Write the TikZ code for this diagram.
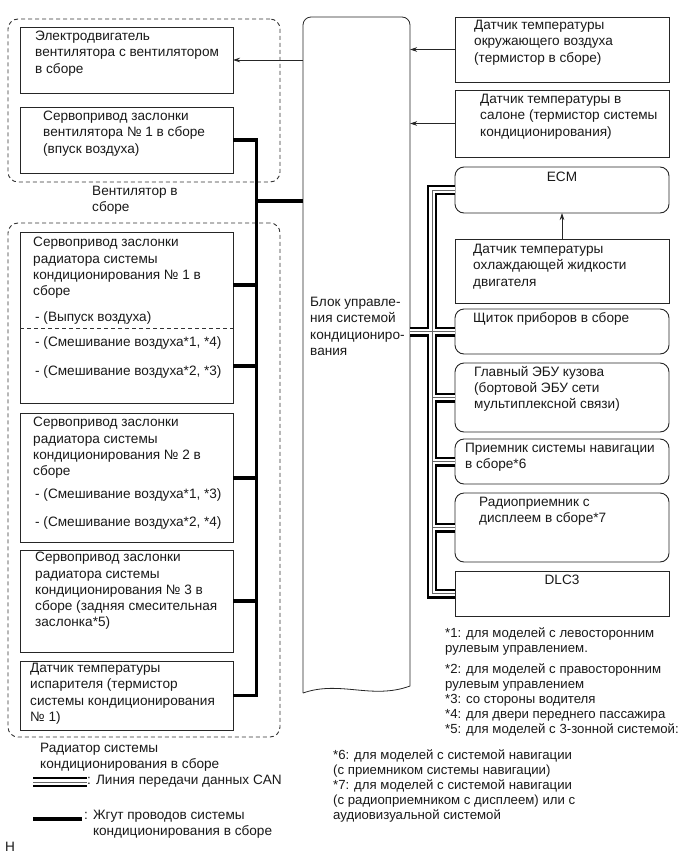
\documentclass[tikz,border=0pt]{standalone}
\usepackage{fontspec}
\setmainfont{Liberation Sans}
\usetikzlibrary{arrows.meta,calc}
\begin{document}
\begin{tikzpicture}[x=1pt,y=-1pt,
  box/.style={draw=black!85, line width=0.9pt, anchor=north west, inner sep=0pt, outer sep=0pt},
  rbox/.style={box, rounded corners=9pt},
  dbox/.style={draw=black!80, line width=0.9pt, dash pattern=on 4pt off 3pt, rounded corners=10pt, anchor=north west, inner sep=0pt, outer sep=0pt},
  txt/.style={anchor=north west, inner sep=0pt, align=left, text=black!90, font=\fontsize{13.6}{16.3}\selectfont},
  ftxt/.style={txt, font=\fontsize{13.2}{15.2}\selectfont},
  harness/.style={line width=3.2pt, draw=black},
  arr/.style={line width=0.7pt, draw=black!85, -{Stealth[length=7pt,width=4.5pt]}},
  sep/.style={line width=0.8pt, draw=black!80, dash pattern=on 4pt off 3pt}]
\useasboundingbox (0,0) rectangle (691,854);

% ---------- left boxes ----------
\node[dbox, minimum width=272pt, minimum height=163pt] (fan) at (8,19) {};
\node[dbox, minimum width=272pt, minimum height=514pt] (rad) at (8,223) {};
\node[box, minimum width=213pt, minimum height=66pt] (b1) at (20,27) {};
\node[box, minimum width=213pt, minimum height=66pt] (b2) at (20,107) {};
\node[box, minimum width=213pt, minimum height=171pt] (b3) at (20,232) {};
\node[box, minimum width=213pt, minimum height=129pt] (b4) at (20,413) {};
\node[box, minimum width=213pt, minimum height=102pt] (b5) at (20,550) {};
\node[box, minimum width=213pt, minimum height=69pt] (b6) at (20,661) {};

\node[txt] (t1) at (35,31) {Электродвигатель\\вентилятора с вентилятором\\в сборе};
\node[txt] (t2) at (43,111) {Сервопривод заслонки\\вентилятора № 1 в сборе\\(впуск воздуха)};
\node[txt] (tfan) at (92,186) {Вентилятор в\\сборе};
\node[txt] (t3) at (33,237) {Сервопривод заслонки\\радиатора системы\\кондиционирования № 1 в\\сборе};
\node[txt] (t3a) at (35,311) {- (Выпуск воздуха)};
\draw[sep] (b3.west |- 0,328) -- (b3.east |- 0,328);
\node[txt] (t3b) at (35,336) {- (Смешивание воздуха*1, *4)};
\node[txt] (t3c) at (35,365) {- (Смешивание воздуха*2, *3)};
\node[txt] (t4) at (33,417) {Сервопривод заслонки\\радиатора системы\\кондиционирования № 2 в\\сборе};
\node[txt] (t4a) at (35,488) {- (Смешивание воздуха*1, *3)};
\node[txt] (t4b) at (35,516) {- (Смешивание воздуха*2, *4)};
\node[txt] (t5) at (35,552) {Сервопривод заслонки\\радиатора системы\\кондиционирования № 3 в\\сборе (задняя смесительная\\заслонка*5)};
\node[txt] (t6) at (30,663) {Датчик температуры\\испарителя (термистор\\системы кондиционирования\\№ 1)};
\node[txt] (trad) at (40,743) {Радиатор системы\\кондиционирования в сборе};

% ---------- main block ----------
\node[anchor=north west, inner sep=0pt, outer sep=0pt, minimum width=107pt, minimum height=676pt] (blk) at (303,17) {};
\draw[line width=0.8pt, draw=black!85] (blk.south west) -- ([yshift=-8pt]blk.north west)
  arc[start angle=180, end angle=90, radius=8pt] -- ([xshift=-8pt]blk.north east)
  arc[start angle=90, end angle=0, radius=8pt] -- ([yshift=7pt]blk.south east)
  .. controls (372,700) and (340,680) .. (blk.south west);
\node[txt] (tblk) at (310,297) {Блок управле-\\ния системой\\кондициониро-\\вания};

% ---------- right boxes ----------
\node[box, minimum width=214pt, minimum height=65pt] (r1) at (455,17) {};
\node[box, minimum width=214pt, minimum height=67pt] (r2) at (455,90) {};
\node[rbox, minimum width=214pt, minimum height=46pt] (ecm) at (455,167) {};
\node[box, minimum width=214pt, minimum height=64pt] (cool) at (455,239) {};
\node[rbox, minimum width=214pt, minimum height=45pt] (shield) at (455,309) {};
\node[rbox, minimum width=214pt, minimum height=69pt] (bcm) at (455,363) {};
\node[rbox, minimum width=214pt, minimum height=45pt] (nav) at (455,439) {};
\node[rbox, minimum width=214pt, minimum height=69pt] (radio) at (455,493) {};
\node[box, minimum width=214pt, minimum height=45pt] (dlc) at (455,571) {};

\node[txt] (tr1) at (474,20) {Датчик температуры\\окружающего воздуха\\(термистор в сборе)};
\node[txt] (tr2) at (480,94) {Датчик температуры в\\салоне (термистор системы\\кондиционирования)};
\node[txt, anchor=north] (tecm) at (562,172) {ECM};
\node[txt] (tcool) at (473,244) {Датчик температуры\\охлаждающей жидкости\\двигателя};
\node[txt] (tshield) at (473,312) {Щиток приборов в сборе};
\node[txt] (tbcm) at (474,366) {Главный ЭБУ кузова\\(бортовой ЭБУ сети\\мультиплексной связи)};
\node[txt] (tnav) at (465,443) {Приемник системы навигации\\в сборе*6};
\node[txt] (tradio) at (479,497) {Радиоприемник с\\дисплеем в сборе*7};
\node[txt, anchor=north] (tdlc) at (562,575) {DLC3};

% ---------- arrows ----------
\draw[arr] (blk.west |- b1.east) -- (b1.east);
\draw[arr] (r1.west) -- (blk.east |- r1.west);
\draw[arr] (r2.west) -- (blk.east |- r2.west);
\draw[arr] (cool.north) -- (ecm.south);

% ---------- harness ----------
\coordinate (hx) at (256.5,0);
\coordinate (s3a) at (233,285);
\coordinate (s3b) at (233,366);
\coordinate (s4) at (233,478);
\coordinate (s5) at (233,601);
\coordinate (hb) at (256.5,201);
\draw[harness] (b2.east) -- (hx |- b2.east) -- (hx |- b6.east) -- (b6.east);
\draw[harness] (s3a) -- (hx |- s3a);
\draw[harness] (s3b) -- (hx |- s3b);
\draw[harness] (s4) -- (hx |- s4);
\draw[harness] (s5) -- (hx |- s5);
\draw[harness] (hb) -- (blk.west |- hb);

% ---------- legend ----------
\coordinate (lcA) at (33,782);
\coordinate (lcB) at (87,782);
\coordinate (lhA) at (33,819);
\coordinate (lhB) at (82,819);
\draw[harness] (lhA) -- (lhB);
\node[txt] (lcan) at (87,775) {: Линия передачи данных CAN};
\node[txt] (lhar) at (84,810) {: Жгут проводов системы\\\phantom{: }кондиционирования в сборе};
\node[txt] (hmark) at (5,842) {H};

% ---------- CAN lines ----------
\coordinate (canx) at (432,0);
\foreach \w/\c in {10pt/black, 5.4pt/white, 1pt/black!60} {
  \draw[line width=\w, draw=\c] (ecm.west) -- (canx |- ecm.west) -- (canx |- dlc.west) -- (dlc.west);
  \draw[line width=\w, draw=\c] (blk.east |- shield.west) -- (shield.west);
  \draw[line width=\w, draw=\c] (canx |- bcm.west) -- (bcm.west);
  \draw[line width=\w, draw=\c] (canx |- nav.west) -- (nav.west);
  \draw[line width=\w, draw=\c] (canx |- radio.west) -- (radio.west);
  \draw[line width=\w, draw=\c] (lcA) -- (lcB);
}

% ---------- footnotes ----------
\node[ftxt] (f1) at (445,627) {*1: для моделей с левосторонним\\рулевым управлением.};
\node[ftxt] (f2) at (445,663) {*2: для моделей с правосторонним\\рулевым управлением\\*3: со стороны водителя\\*4: для двери переднего пассажира\\*5: для моделей с 3-зонной системой:};
\node[ftxt] (f6) at (333,749) {*6: для моделей с системой навигации\\(с приемником системы навигации)};
\node[ftxt] (f7) at (333,779) {*7: для моделей с системой навигации\\(с радиоприемником с дисплеем) или с\\аудиовизуальной системой};
\end{tikzpicture}
\end{document}
